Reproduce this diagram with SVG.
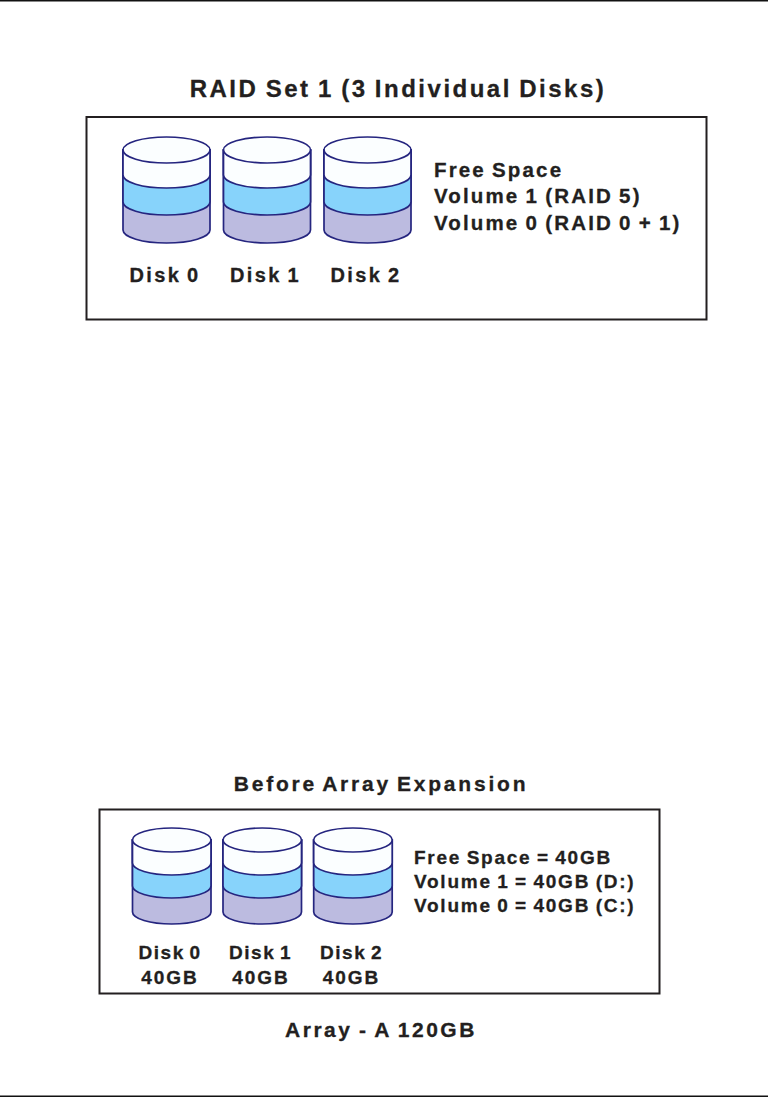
<svg xmlns="http://www.w3.org/2000/svg" xmlns:xlink="http://www.w3.org/1999/xlink" width="768" height="1097" viewBox="0 0 768 1097">
<style>
text{font-family:"Liberation Sans",Arial,sans-serif;font-weight:700;fill:#231f20;stroke:#231f20;stroke-width:.3px}
.t1{font-size:24px;letter-spacing:2.5px;word-spacing:-1.8px;text-anchor:middle}
.l1{font-size:20.5px;letter-spacing:2.15px;word-spacing:-1.7px}
.d1{font-size:20px;letter-spacing:2.4px;word-spacing:-2.4px;text-anchor:middle}
.t2{font-size:21px;letter-spacing:2.8px;word-spacing:-2.75px;text-anchor:middle}
.t3{font-size:21px;letter-spacing:2.5px;word-spacing:-1.75px;text-anchor:middle}
.l2{font-size:19px;letter-spacing:1.75px;word-spacing:-1.5px}
.d2{font-size:19px;letter-spacing:1.6px;word-spacing:-2.4px;text-anchor:middle}
.g2{font-size:19px;letter-spacing:2px;text-anchor:middle}
.box{fill:#fff;stroke:#231f20;stroke-width:2}
.o{stroke:#25257f;stroke-width:1.7}
.a{fill:#fbfeff}.b{fill:#87d3fb}.c{fill:#bcbbe0}
</style>
<defs>
<g id="disk1">
<path class="o c" d="M0 13V93A43.500 13 0 0 0 87 93V13Z"/>
<path class="o b" d="M0 13V65A43.500 13 0 0 0 87 65V13Z"/>
<path class="o a" d="M0 13V38A43.500 13 0 0 0 87 38V13Z"/>
<ellipse class="o a" cx="43.500" cy="13" rx="43.500" ry="13"/>
</g>
<g id="disk2">
<path class="o c" d="M0 12V84A39.250 12 0 0 0 78.500 84V12Z"/>
<path class="o b" d="M0 12V58A39.250 12 0 0 0 78.500 58V12Z"/>
<path class="o a" d="M0 12V35A39.250 12 0 0 0 78.500 35V12Z"/>
<ellipse class="o a" cx="39.250" cy="12" rx="39.250" ry="12"/>
</g>
</defs>
<rect width="768" height="1097" fill="#fff"/>
<g id="page-rules">
<rect x="0" y="0" width="768" height="1.500" fill="#111"/>
<rect x="0" y="1095.500" width="768" height="1.500" fill="#111"/>
</g>
<g id="raid-set-1">
<text class="t1" x="398" y="96.500">RAID Set 1 (3 Individual Disks)</text>
<rect class="box" x="86.500" y="117" width="620" height="202.500"/>
<g id="r1-disk0"><use xlink:href="#disk1" href="#disk1" x="123" y="137"/><text class="d1" x="165" y="282">Disk 0</text></g>
<g id="r1-disk1"><use xlink:href="#disk1" href="#disk1" x="223.500" y="137"/><text class="d1" x="265.500" y="282">Disk 1</text></g>
<g id="r1-disk2"><use xlink:href="#disk1" href="#disk1" x="324" y="137"/><text class="d1" x="366" y="282">Disk 2</text></g>
<g id="r1-legend">
<text class="l1" x="434" y="176.500">Free Space</text>
<text class="l1" x="434" y="203">Volume 1 (RAID 5)</text>
<text class="l1" x="434" y="230">Volume 0 (RAID 0 + 1)</text>
</g>
</g>
<g id="array-a">
<text class="t2" x="381" y="791">Before Array Expansion</text>
<rect class="box" x="99.500" y="809.500" width="560" height="184"/>
<g id="r2-disk0"><use xlink:href="#disk2" href="#disk2" x="132.500" y="828"/><text class="d2" x="170" y="959">Disk 0</text><text class="g2" x="170" y="983.500">40GB</text></g>
<g id="r2-disk1"><use xlink:href="#disk2" href="#disk2" x="223" y="828"/><text class="d2" x="260.500" y="959">Disk 1</text><text class="g2" x="261" y="983.500">40GB</text></g>
<g id="r2-disk2"><use xlink:href="#disk2" href="#disk2" x="313.700" y="828"/><text class="d2" x="351.500" y="959">Disk 2</text><text class="g2" x="351.500" y="983.500">40GB</text></g>
<g id="r2-legend">
<text class="l2" x="414" y="863.500">Free Space = 40GB</text>
<text class="l2" x="414" y="888">Volume 1 = 40GB (D:)</text>
<text class="l2" x="414" y="912">Volume 0 = 40GB (C:)</text>
</g>
<text class="t3" x="381" y="1036.500">Array - A 120GB</text>
</g>
</svg>
